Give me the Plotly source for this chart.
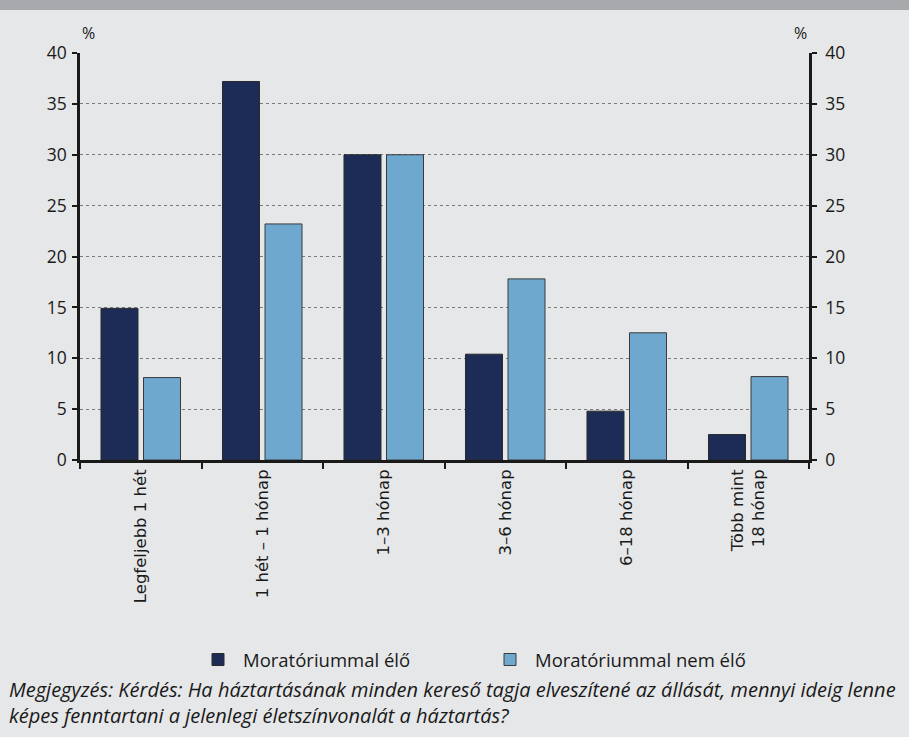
import plotly.graph_objects as go

categories = ["Legfeljebb 1 hét", "1 hét – 1 hónap", "1–3 hónap", "3–6 hónap",
              "6–18 hónap", "Több mint<br>18 hónap"]
series_names = ["Moratóriummal élő", "Moratóriummal nem élő"]
values_elo = [14.9, 37.2, 30.0, 10.4, 4.8, 2.5]
values_nem_elo = [8.1, 23.2, 30.0, 17.8, 12.5, 8.2]
y_ticks = [0, 5, 10, 15, 20, 25, 30, 35, 40]
note = ("Megjegyzés: Kérdés: Ha háztartásának minden kereső tagja elveszítené az állását, mennyi ideig lenne<br>"
        "képes fenntartani a jelenlegi életszínvonalát a háztartás?")

W, H = 909, 737
L, R, T, B = 80, 100, 53, 277

DARK = "#1c2c57"
LIGHT = "#6fa8cf"
BG = "#e6e7e8"
SANS = "Open Sans, Noto Sans, sans-serif"

fig = go.Figure()
fig.add_trace(go.Bar(x=categories, y=values_elo, name=series_names[0],
                     marker=dict(color=DARK, line=dict(color="#2a2a2a", width=1))))
fig.add_trace(go.Bar(x=categories, y=values_nem_elo, name=series_names[1],
                     marker=dict(color=LIGHT, line=dict(color="#3a3a3a", width=1))))
# invisible trace to drive the right axis
fig.add_trace(go.Scatter(x=categories, y=values_elo, yaxis="y2", mode="markers",
                         marker=dict(opacity=0), showlegend=False, hoverinfo="skip"))

tickfont = dict(family=SANS, size=17.5, color="#1a1a1a")

pw = W - L - R
ph = H - T - B
def px(pix):
    return (pix - L) / pw
def py(pix):
    return (H - B - pix) / ph

fig.update_layout(
    width=W, height=H,
    margin=dict(l=L, r=R, t=T, b=B, pad=0),
    paper_bgcolor=BG, plot_bgcolor=BG,
    barmode="group", bargap=0.3, bargroupgap=0.13,
    showlegend=True,
    legend=dict(orientation="h", x=px(193), xanchor="left", y=py(660), yanchor="middle",
                font=dict(family=SANS, size=18.5, color="#1a1a1a"),
                bgcolor="rgba(0,0,0,0)", itemwidth=40, traceorder="normal",
                entrywidth=237),
    xaxis=dict(type="category", tickangle=-90, tickson="boundaries",
               ticks="outside", ticklen=6, tickwidth=2, tickcolor="#1a1a1a",
               showline=True, linewidth=2.5, linecolor="#1a1a1a",
               showgrid=False, zeroline=False,
               tickfont=dict(family="DejaVu Sans, Verdana, sans-serif", size=16.5, color="#1a1a1a")),
    yaxis=dict(range=[0, 40], tickvals=y_ticks, ticks="outside", ticklen=5,
               tickwidth=2, tickcolor="#1a1a1a", showline=True, linewidth=2.5,
               linecolor="#1a1a1a", showgrid=True, gridcolor="#7a7a7a",
               griddash="dot", gridwidth=1, zeroline=False, tickfont=tickfont,
               ticklabelstandoff=2, layer="below traces"),
    yaxis2=dict(range=[0, 40], tickvals=y_ticks, overlaying="y", side="right",
                ticks="outside", ticklen=5, tickwidth=2, tickcolor="#1a1a1a",
                showline=True, linewidth=2.5, linecolor="#1a1a1a",
                showgrid=False, zeroline=False, tickfont=tickfont,
                ticklabelstandoff=5),
)

# top gray band
fig.add_shape(type="rect", xref="paper", yref="paper", x0=px(-5), x1=px(W + 5),
              y0=py(10), y1=py(-5), fillcolor="#a7a9ac", line=dict(width=0), layer="above")

for xpos in (88, 800):
    fig.add_annotation(text="%", xref="paper", yref="paper", x=px(xpos), y=py(33),
                       showarrow=False, xanchor="center", yanchor="middle",
                       font=dict(family=SANS, size=16, color="#1a1a1a"))
fig.add_annotation(text=note, xref="paper", yref="paper", x=px(7), y=py(702),
                   showarrow=False, xanchor="left", yanchor="middle", align="left",
                   font=dict(family=SANS, size=20, color="#1a1a1a", style="italic"))

fig.write_html("out.html", config={"displayModeBar": False},
               post_script="document.body.style.margin='0';document.body.style.background='#e6e7e8';")
